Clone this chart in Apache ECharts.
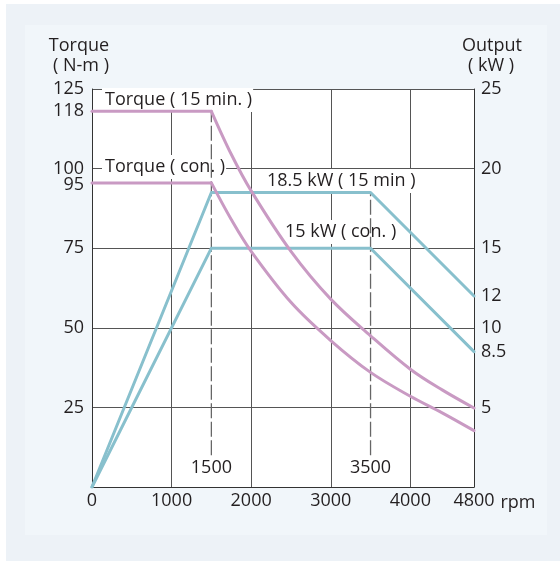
<!DOCTYPE html>
<html><head><meta charset="utf-8">
<script src="https://cdn.jsdelivr.net/npm/echarts@6/dist/echarts.min.js"></script>
<style>
html,body{margin:0;padding:0;background:#fff;}
#outer{position:absolute;left:6px;top:4px;width:554px;height:557px;background:#edf2f7;}
#inner{position:absolute;left:25px;top:25px;width:522px;height:510px;background:#f1f6fa;}
#chart{position:absolute;left:0;top:0;width:560px;height:561px;}
</style></head>
<body>
<div id="outer"></div><div id="inner"></div>
<div id="chart"></div>
<script>
// ---- data ----
const rpmTicks = [0, 1000, 2000, 3000, 4000, 4800];
const torqueTicks = [25, 50, 75, 95, 100, 118, 125];
const outputTicks = [5, 8.5, 10, 12, 15, 20, 25];

const torque15Flat = [[0, 118], [1500, 118]];
const torque15Curve = [[1500, 118], [1750, 104.5], [2000, 93], [2500, 74], [3000, 59], [3500, 47.5], [4000, 37], [4400, 30.5], [4800, 24.8]];
const torqueConFlat = [[0, 95.5], [1500, 95.5]];
const torqueConCurve = [[1500, 95.5], [1750, 84], [2000, 74], [2500, 58], [3000, 46], [3500, 36], [4000, 28.5], [4400, 23.3], [4800, 17.7]];

const output15 = [[0, 0], [1500, 18.5], [3500, 18.5], [4800, 12]];
const outputCon = [[0, 0], [1500, 15], [3500, 15], [4800, 8.5]];

const markerRpm = [1500, 3500];
const markerTop = [118, 92.5];
const markerBottom = 10;

const annotations = [
  { text: 'Torque ( 15 min. )', x: 102, y: 100 },
  { text: 'Torque ( con. )', x: 102, y: 167 },
  { text: '18.5 kW ( 15 min )', x: 264, y: 181 },
  { text: '15 kW ( con. )', x: 282, y: 232 }
];

// ---- chart ----
const FONT = 'Open Sans';
const FS = 18;
const TXT = '#231f20';
const PINK = '#c99ac3';
const BLUE = '#88c0cd';
const GRID = '#555';
const AXIS = '#333';

const chart = echarts.init(document.getElementById('chart'), null, { renderer: 'canvas' });

const markerSeries = markerRpm.map((r, i) => ({
  type: 'line', xAxisIndex: 0, yAxisIndex: 0, z: 3,
  symbol: 'none', silent: true,
  lineStyle: { color: '#666', width: 1.3, type: [15, 3.5] },
  data: [
    { value: [r, markerBottom], symbol: 'circle', symbolSize: 0.1,
      label: { show: true, position: 'bottom', distance: 4, formatter: String(r),
               fontFamily: FONT, fontSize: FS, color: TXT } },
    { value: [r, markerTop[i]] }
  ]
}));

const lineS = (data, color, yIdx, smooth) => ({
  type: 'line', xAxisIndex: 0, yAxisIndex: yIdx, data, smooth: smooth ? 0.35 : false,
  symbol: 'none', silent: true, z: 4,
  lineStyle: { color, width: 3, cap: 'round', join: 'round' }
});

const txt = (text, x, y, align) => ({
  type: 'text', z: 1, x, y,
  style: { text, font: FS + 'px "' + FONT + '"', fill: TXT, textAlign: align, textVerticalAlign: 'middle' }
});

chart.setOption({
  animation: false,
  textStyle: { fontFamily: FONT },
  grid: { left: 92, top: 89, width: 382, height: 398, show: true, backgroundColor: '#fff', borderWidth: 0 },
  xAxis: {
    type: 'value', min: 0, max: 4800, interval: 1000,
    axisLine: { show: true, onZero: false, lineStyle: { color: AXIS, width: 1 } },
    axisTick: { show: false },
    splitLine: { show: true, lineStyle: { color: GRID, width: 1 } },
    axisLabel: { customValues: rpmTicks, margin: 5, fontFamily: FONT, fontSize: FS, color: TXT,
                 formatter: v => String(v) },
    name: 'rpm', nameLocation: 'end', nameGap: 24,
    nameTextStyle: { fontFamily: FONT, fontSize: FS, color: TXT, align: 'left', verticalAlign: 'top', padding: [7, 0, 0, 0] }
  },
  yAxis: [
    {
      type: 'value', min: 0, max: 125, interval: 25,
      axisLine: { show: true, onZero: false, lineStyle: { color: AXIS, width: 1 } },
      axisTick: { show: false },
      splitLine: { show: true, lineStyle: { color: GRID, width: 1 } },
      axisLabel: { customValues: torqueTicks, margin: 8, fontFamily: FONT, fontSize: FS, color: TXT,
                   formatter: v => String(v) }
    },
    {
      type: 'value', min: 0, max: 25, interval: 5, position: 'right',
      axisLine: { show: true, onZero: false, lineStyle: { color: AXIS, width: 1 } },
      axisTick: { show: false },
      splitLine: { show: false },
      axisLabel: { customValues: outputTicks, margin: 7, fontFamily: FONT, fontSize: FS, color: TXT,
                   padding: [4, 0, 0, 0], formatter: v => String(v) }
    }
  ],
  graphic: [
    txt('Torque', 79, 46, 'center'),
    txt('( N-m )', 81, 66, 'center'),
    txt('Output', 492, 46, 'center'),
    txt('( kW )', 491, 66, 'center')
  ].concat(annotations.map(a => ({
    type: 'text', z: 1, x: a.x, y: a.y,
    style: { text: a.text, font: FS + 'px "' + FONT + '"', fill: TXT, textAlign: 'left', textVerticalAlign: 'middle',
             backgroundColor: '#fff', padding: [3, 1, 3, 3] }
  }))),
  series: [
    lineS(output15, BLUE, 1, false),
    lineS(outputCon, BLUE, 1, false),
    lineS(torque15Flat, PINK, 0, false),
    lineS(torque15Curve, PINK, 0, true),
    lineS(torqueConFlat, PINK, 0, false),
    lineS(torqueConCurve, PINK, 0, true)
  ].concat(markerSeries)
});
</script>
</body></html>
